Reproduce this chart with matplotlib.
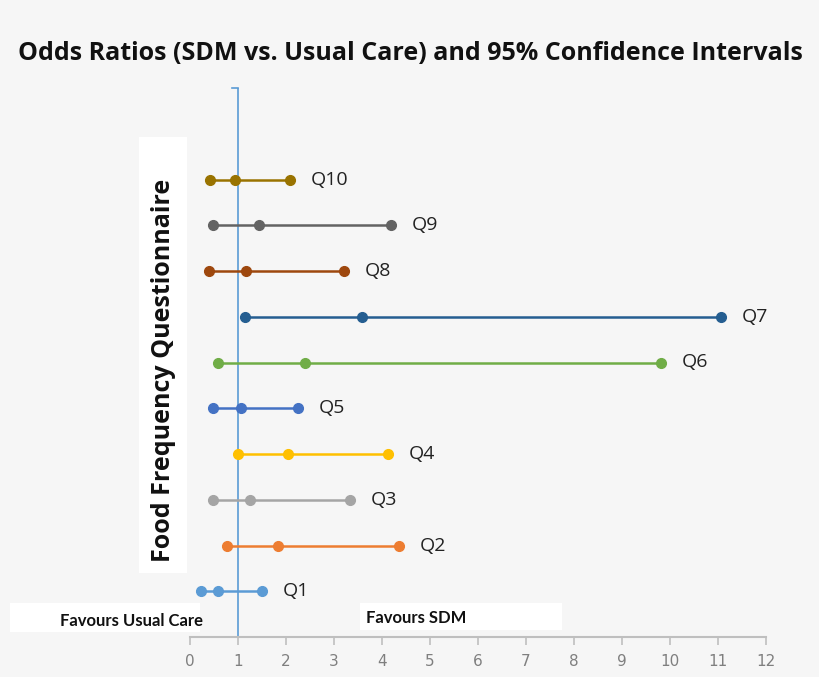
import numpy as np
import matplotlib.pyplot as plt

# Odds ratios and 95% CI
questions = ['Q1', 'Q2', 'Q3', 'Q4', 'Q5', 'Q6', 'Q7', 'Q8', 'Q9', 'Q10']
lower = [0.23, 0.77, 0.48, 1.00, 0.48, 0.58, 1.15, 0.40, 0.48, 0.42]
odds = [0.58, 1.83, 1.25, 2.04, 1.06, 2.40, 3.58, 1.17, 1.44, 0.94]
upper = [1.50, 4.35, 3.33, 4.13, 2.25, 9.81, 11.06, 3.21, 4.19, 2.08]
colors = ['#5B9BD5', '#ED7D31', '#A5A5A5', '#FFC000', '#4472C4',
          '#70AD47', '#255E91', '#9E480E', '#636363', '#997300']
xticks = list(range(0, 13))

W, H = 820, 677
bg = '#f6f6f6'
fig = plt.figure(figsize=(8.2, 6.77), dpi=100, facecolor=bg)
ax = fig.add_axes([190 / W, 40 / H, 576 / W, 549 / H])
ax.set_facecolor(bg)

for i, q in enumerate(questions):
    y = i + 1
    ax.plot([lower[i], odds[i], upper[i]], [y, y, y], color=colors[i],
            lw=1.8, marker='o', ms=7, solid_capstyle='butt', zorder=3)
    ax.annotate(q, (upper[i], y), xytext=(15, 0), textcoords='offset points',
                va='center', ha='left', fontsize=14, family='Open Sans',
                color='#222222')

# reference line at OR = 1
ax.axvline(1, color='#5B9BD5', lw=1.2, zorder=2)
ax.plot([0.88, 1], [12, 12], color='#5B9BD5', lw=1.2, clip_on=False)

ax.set_xlim(0, 12)
ax.set_ylim(0, 12)
ax.set_xticks(xticks)
ax.set_yticks([])
for s in ['left', 'right', 'top']:
    ax.spines[s].set_visible(False)
ax.spines['bottom'].set_color('#bfbfbf')
ax.spines['bottom'].set_linewidth(1.5)
ax.tick_params(axis='x', colors='#bfbfbf', length=6, width=1.2, direction='out',
               labelsize=11, labelcolor='#7f7f7f', pad=6)

fig.text(0.5, 1 - 54 / H, 'Odds Ratios (SDM vs. Usual Care) and 95% Confidence Intervals',
         ha='center', va='center', fontsize=18, fontweight='bold',
         family='Open Sans', color='#111111')

# white boxes behind the annotations
def white_box(x0, y0, x1, y1):
    fig.patches.append(plt.Rectangle((x0 / W, 1 - y1 / H), (x1 - x0) / W, (y1 - y0) / H,
                                     transform=fig.transFigure, fc='white', ec='none'))

white_box(139, 137, 187, 573)
white_box(10, 603, 200, 632)
white_box(360, 603, 562, 630)

fig.text(164 / W, 1 - 370 / H, 'Food Frequency Questionnaire', rotation=90,
         ha='center', va='center', fontsize=18, fontweight='bold',
         family='Open Sans', color='#111111')
fig.text(132 / W, 1 - 621 / H, 'Favours Usual Care', ha='center', va='center',
         fontsize=12, fontweight='bold', family='Lato', color='#111111')
fig.text(416 / W, 1 - 618 / H, 'Favours SDM', ha='center', va='center',
         fontsize=12, fontweight='bold', family='Lato', color='#111111')

fig.savefig('out.png', dpi=100, facecolor=bg)
